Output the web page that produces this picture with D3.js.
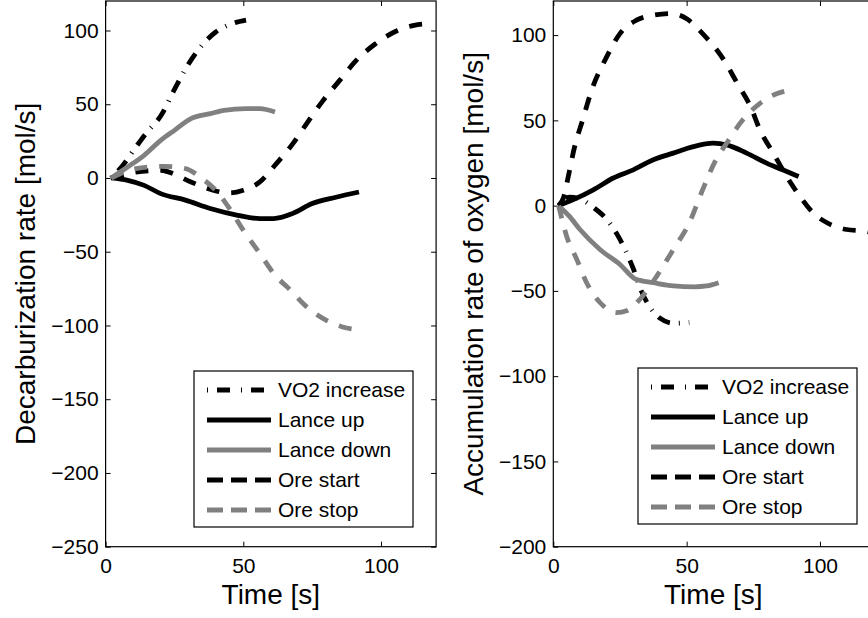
<!DOCTYPE html>
<html>
<head>
<meta charset="utf-8">
<script src="https://cdn.jsdelivr.net/npm/d3@7"></script>
<style>
  body { margin: 0; background: #fff; }
  text { font-family: "Liberation Sans", Arial, Helvetica, sans-serif; fill: #000; }
</style>
</head>
<body>
<div id="visualization"></div>
<script>
const width = 868
const height = 618

/* Legend names (same order in both panels) */
const seriesNames = ['VO2 increase', 'Lance up', 'Lance down', 'Ore start', 'Ore stop']

/* Tick labels */
const timeTicks = [0, 50, 100]
const decarbTicks = [-250, -200, -150, -100, -50, 0, 50, 100]
const oxygenTicks = [-200, -150, -100, -50, 0, 50, 100]

/* Left panel: decarburization rate [mol/s], pairs of [time, value] */
const decarbVO2 = [[2, 0], [6, 8], [11, 21], [15, 31], [20, 42], [25, 60], [30, 77], [35, 90], [40, 99], [45, 104], [51, 107]]
const decarbLanceUp = [[2, 0], [8, -1.6], [14, -5], [20, -10.6], [29, -15], [38, -20.7], [48, -25.3], [56, -27.5], [61, -27.5], [68, -24], [75, -17.3], [84, -12.9], [92, -9.5]]
const decarbLanceDown = [[2, 0], [8, 7.5], [14, 15.4], [20, 25.5], [25, 32.3], [31, 40.2], [38, 43.6], [43, 45.9], [51, 47], [56, 47], [61.5, 44.7]]
const decarbOreStart = [[2, 0], [11, 4], [20, 5.2], [23, 4], [31, -2.7], [39, -8.3], [45, -10.2], [50, -8.3], [56, -2.7], [62, 9.7], [68, 23.3], [73, 36.9], [79, 52.6], [85, 66.2], [91, 79.7], [98, 91], [106, 100], [112, 103.5], [117, 104.6]]
const decarbOreStop = [[2, 0], [11, 6.4], [21, 7.9], [29, 6.4], [35, -0.4], [40, -8.3], [45, -20.7], [50, -35.4], [56, -51.2], [62, -67], [66, -74], [73, -87.4], [80, -96.4], [86, -101], [91, -102.7]]

/* Right panel: accumulation rate of oxygen [mol/s] */
const oxygenVO2 = [[2, 0], [6, 5], [10, 4], [15, -1], [20, -8], [24, -17], [27, -26], [30, -37], [33, -50], [36, -59], [40, -66], [45, -69], [51, -68.5]]
const oxygenLanceUp = [[2, 0], [7.5, 3.5], [15, 9.3], [22.5, 16.2], [30, 21], [37.5, 26.9], [45, 30.8], [52.5, 34.6], [60, 36.6], [65, 35.6], [72.5, 30.8], [80, 24.9], [86, 21], [92, 17.1]]
const oxygenLanceDown = [[2, 0], [6, -6.2], [10, -14], [17.5, -25.7], [25, -34.5], [31, -43.2], [37.5, -45.2], [45, -47.1], [53, -47.6], [57.5, -47.1], [62, -45.2]]
const oxygenOreStart = [[2, 0], [4, 5.4], [5.6, 17], [8, 34.6], [11, 50.2], [14.4, 67.8], [20, 87.2], [25, 100.9], [31, 108.6], [37.5, 111.6], [44, 112.6], [50, 109.6], [56, 100.9], [64, 85.3], [69, 71.7], [74, 58], [77.5, 44.4], [82.5, 30.8], [87.5, 17.1], [92.5, 5.4], [97.5, -4.3], [104, -11.1], [110, -14], [117, -15], [120, -16]]
const oxygenOreStop = [[2, 0], [5, -17.9], [8.8, -31.5], [12.5, -45.2], [17.5, -56.8], [23.8, -62.7], [27.5, -61.7], [32.5, -54.9], [38.8, -41.3], [45, -25.7], [51, -10.1], [56, 9.3], [61, 26.9], [65, 36.6], [71, 50.2], [77.5, 60], [84, 65.8], [89, 67.8]]

/* Line styles by series (MATLAB-like) */
const styles = [
    { color: '#000', dash: '1,9,13,9' },
    { color: '#000', dash: null },
    { color: '#808080', dash: null },
    { color: '#000', dash: '13,12' },
    { color: '#808080', dash: '13,12' },
]

const svg = d3.select('#visualization').append('svg')
    .attr('width', width).attr('height', height)
    .style('background', '#fff')

const panels = [
    {
        left: 105.6, right: 436.1, top: 1, bottom: 546.7,
        yDomain: [-250, 120], yTicks: decarbTicks,
        yLabel: 'Decarburization rate [mol/s]', yLabelX: 35,
        series: [decarbVO2, decarbLanceUp, decarbLanceDown, decarbOreStart, decarbOreStop],
        legend: { x: 194, y: 371, w: 219, h: 156 },
    },
    {
        left: 553.3, right: 873.3, top: 1, bottom: 546.7,
        yDomain: [-200, 120], yTicks: oxygenTicks,
        yLabel: 'Accumulation rate of oxygen [mol/s]', yLabelX: 483,
        series: [oxygenVO2, oxygenLanceUp, oxygenLanceDown, oxygenOreStart, oxygenOreStop],
        legend: { x: 638, y: 368, w: 219, h: 156 },
    },
]

panels.forEach(p => drawPanel(p))

function drawPanel(p) {
    const x = d3.scaleLinear().domain([0, 120]).range([p.left, p.right])
    const y = d3.scaleLinear().domain(p.yDomain).range([p.bottom, p.top])
    const g = svg.append('g')
    const tickLen = 5

    // box + inward ticks on all sides
    g.append('rect')
        .attr('x', p.left).attr('y', p.top)
        .attr('width', p.right - p.left).attr('height', p.bottom - p.top)
        .attr('fill', 'none').attr('stroke', '#000').attr('stroke-width', 1.2)

    const fmt = d3.format('d')

    g.append('g')
        .attr('transform', `translate(0,${p.bottom})`)
        .call(d3.axisBottom(x).tickValues(timeTicks).tickSizeInner(-tickLen).tickSizeOuter(0).tickPadding(11).tickFormat(fmt))
        .call(a => a.select('.domain').remove())
        .call(a => a.selectAll('text').attr('font-size', 21).attr('font-family', null))
    g.append('g')
        .attr('transform', `translate(0,${p.top})`)
        .call(d3.axisTop(x).tickValues(timeTicks).tickSizeInner(-tickLen).tickSizeOuter(0).tickFormat(''))
        .call(a => a.select('.domain').remove())
    g.append('g')
        .attr('transform', `translate(${p.left},0)`)
        .call(d3.axisLeft(y).tickValues(p.yTicks).tickSizeInner(-tickLen).tickSizeOuter(0).tickPadding(7).tickFormat(fmt))
        .call(a => a.select('.domain').remove())
        .call(a => a.selectAll('text').attr('font-size', 21).attr('font-family', null))
    g.append('g')
        .attr('transform', `translate(${p.right},0)`)
        .call(d3.axisRight(y).tickValues(p.yTicks).tickSizeInner(-tickLen).tickSizeOuter(0).tickFormat(''))
        .call(a => a.select('.domain').remove())
    g.selectAll('.tick line').attr('stroke', '#000')

    // axis titles
    g.append('text')
        .attr('x', (p.left + p.right) / 2).attr('y', 604)
        .attr('text-anchor', 'middle').attr('font-size', 28)
        .text('Time [s]')
    g.append('text')
        .attr('transform', `translate(${p.yLabelX},${(p.top + p.bottom) / 2}) rotate(-90)`)
        .attr('text-anchor', 'middle').attr('font-size', 28)
        .text(p.yLabel)

    // curves
    const line = d3.line()
        .x(d => x(d[0])).y(d => y(d[1]))
        .curve(d3.curveMonotoneX)

    g.selectAll('path.curve')
        .data(p.series)
        .join('path')
        .attr('class', 'curve')
        .attr('d', line)
        .attr('fill', 'none')
        .attr('stroke', (d, i) => styles[i].color)
        .attr('stroke-width', 4.8)
        .attr('stroke-dasharray', (d, i) => styles[i].dash)
        .attr('stroke-linejoin', 'round')

    // legend
    const L = p.legend
    const lg = g.append('g').attr('transform', `translate(${L.x},${L.y})`)
    lg.append('rect')
        .attr('width', L.w).attr('height', L.h)
        .attr('fill', '#fff').attr('stroke', '#000').attr('stroke-width', 1.2)
    const items = lg.selectAll('g.item')
        .data(seriesNames)
        .join('g')
        .attr('class', 'item')
        .attr('transform', (d, i) => `translate(0,${19 + i * 30})`)
    items.append('line')
        .attr('x1', 13).attr('x2', 77)
        .attr('stroke', (d, i) => styles[i].color)
        .attr('stroke-width', 4.8)
        .attr('stroke-dasharray', (d, i) => i === 0 ? '1,9,13,11' : (styles[i].dash ? '16,8' : null))
    items.append('text')
        .attr('x', 84).attr('dy', '0.35em')
        .attr('font-size', 21)
        .text(d => d)
}
</script>
</body>
</html>
